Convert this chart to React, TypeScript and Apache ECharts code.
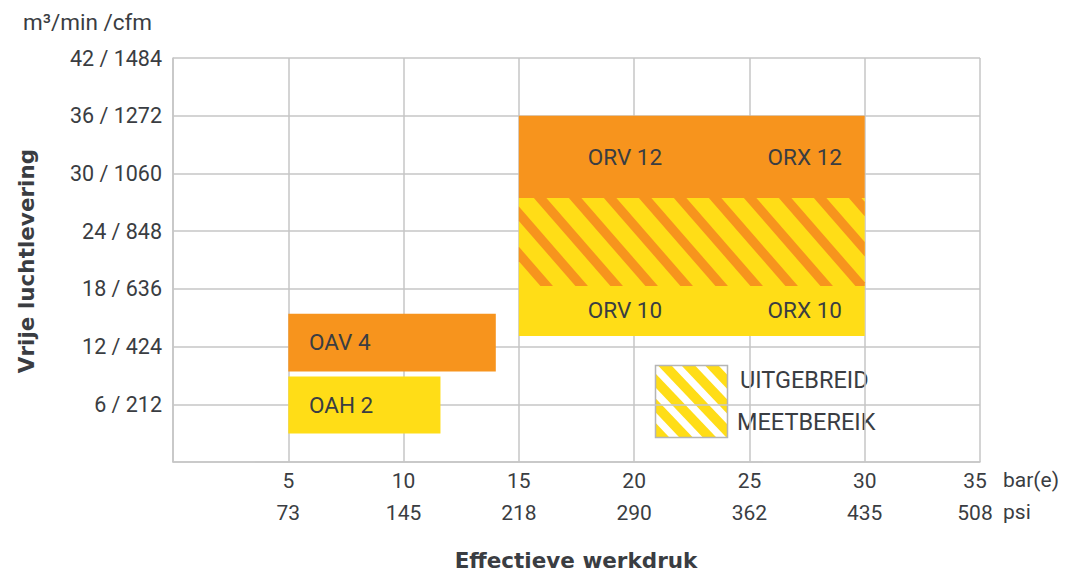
import React, { useEffect, useRef } from "react";
import * as echarts from "echarts";

// ---- data ----
const xBarLabels = ["", "5", "10", "15", "20", "25", "30", "35"];
const xPsiLabels = ["", "73", "145", "218", "290", "362", "435", "508"];
const yTickLabels = ["", "6 / 212", "12 / 424", "18 / 636", "24 / 848", "30 / 1060", "36 / 1272", "42 / 1484"];

const boxXStart = [5, 5, 15, 15, 15];
const boxXEnd = [11.6, 14.0, 30, 30, 30];
const boxYStart = [2.95, 9.4, 13.1, 18.3, 27.45];
const boxYEnd = [8.9, 15.4, 18.3, 27.45, 36];
const boxKind = ["yellow", "orange", "yellow", "hatched", "orange"];

const labelTexts = ["OAH 2", "OAV 4", "ORV 10", "ORX 10", "ORV 12", "ORX 12"];
const labelX = [5.9, 5.9, 19.6, 27.4, 19.6, 27.4];
const labelY = [5.9, 12.5, 15.8, 15.8, 31.7, 31.7];
const labelAlign = ["left", "left", "center", "center", "center", "center"];

const legendLines = ["UITGEBREID", "MEETBEREIK"];

// ---- styles ----
const ORANGE = "#F7941D";
const YELLOW = "#FFDD17";
const TEXT = "#3a3d42";
const GRID = "#c6c6c6";
const FONT = "Roboto, 'Liberation Sans', sans-serif";
const BOLD_FONT = "'DejaVu Sans', 'Liberation Sans', sans-serif";

type Pt = [number, number];

function intersect(p: Pt, q: Pt, ax: number, b: number): Pt {
  const t = (b - p[ax]) / (q[ax] - p[ax]);
  return [p[0] + t * (q[0] - p[0]), p[1] + t * (q[1] - p[1])];
}

function clipPoly(poly: Pt[], xmin: number, ymin: number, xmax: number, ymax: number): Pt[] {
  const planes: [number, number, number][] = [
    [0, xmin, 1],
    [0, xmax, -1],
    [1, ymin, 1],
    [1, ymax, -1],
  ];
  let out = poly;
  for (const [ax, b, s] of planes) {
    const inp = out;
    out = [];
    if (!inp.length) break;
    for (let i = 0; i < inp.length; i++) {
      const cur = inp[i];
      const prev = inp[(i + inp.length - 1) % inp.length];
      const cin = (cur[ax] - b) * s >= 0;
      const pin = (prev[ax] - b) * s >= 0;
      if (cin) {
        if (!pin) out.push(intersect(prev, cur, ax, b));
        out.push(cur);
      } else if (pin) {
        out.push(intersect(prev, cur, ax, b));
      }
    }
  }
  return out;
}

function stripePolys(x0: number, y0: number, x1: number, y1: number, period: number, width: number, k: number, phase: number): Pt[][] {
  const h = y1 - y0;
  const res: Pt[][] = [];
  const nBack = Math.ceil((k * h + width + phase) / period) + 1;
  for (let c = x0 + phase - period * nBack; c < x1; c += period) {
    const poly: Pt[] = [
      [c, y0],
      [c + width, y0],
      [c + width + k * h, y1],
      [c + k * h, y1],
    ];
    const cl = clipPoly(poly, x0, y0, x1, y1);
    if (cl.length >= 3) res.push(cl);
  }
  return res;
}

export default function App() {
  const ref = useRef<HTMLDivElement>(null);

  useEffect(() => {
    if (!ref.current) return;
    const chart = echarts.init(ref.current, null, { renderer: "svg" });

    const boxData = boxXStart.map((_, i) => [boxXStart[i], boxXEnd[i], boxYStart[i], boxYEnd[i], i]);
    const labelData = labelTexts.map((_, i) => [labelX[i], labelY[i], i]);

    // legend swatch (pixel layout)
    const lx0 = 655.5, ly0 = 365.5, lx1 = 727.5, ly1 = 437.5;
    const legendStripes = stripePolys(lx0, ly0, lx1, ly1, 23.5, 10, 0.95, 16).map((pts) => ({
      type: "polygon",
      shape: { points: pts },
      style: { fill: "#ffffff" },
      silent: true,
    }));

    const option: any = {
      animation: false,
      grid: { left: 173, top: 58, width: 807, height: 404, show: false },
      xAxis: {
        type: "value",
        min: 0,
        max: 35,
        interval: 5,
        axisLine: { show: true, lineStyle: { color: GRID, width: 1.5 } },
        axisTick: { show: false },
        splitLine: { show: true, lineStyle: { color: GRID, width: 1.5 } },
        axisLabel: {
          color: TEXT,
          fontSize: 21,
          fontFamily: FONT,
          lineHeight: 32,
          margin: 3,
          rich: {
            o: { color: TEXT, fontSize: 21, fontFamily: FONT, lineHeight: 32, padding: [0, 10, 0, 0] },
          },
          formatter: (v: number) => {
            const i = Math.round(v / 5);
            if (!xBarLabels[i]) return "";
            if (i === xBarLabels.length - 1) return "{o|" + xBarLabels[i] + "}\n{o|" + xPsiLabels[i] + "}";
            return xBarLabels[i] + "\n" + xPsiLabels[i];
          },
        },
      },
      yAxis: {
        type: "value",
        min: 0,
        max: 42,
        interval: 6,
        axisLine: { show: true, lineStyle: { color: GRID, width: 1.5 } },
        axisTick: { show: false },
        splitLine: { show: true, lineStyle: { color: GRID, width: 1.5 } },
        axisLabel: {
          color: TEXT,
          fontSize: 21.5,
          fontFamily: FONT,
          margin: 11,
          formatter: (v: number) => yTickLabels[Math.round(v / 6)] || "",
        },
      },
      series: [
        {
          type: "custom",
          coordinateSystem: "cartesian2d",
          data: boxData,
          encode: { x: [0, 1], y: [2, 3] },
          renderItem: (params: any, api: any) => {
            const i = api.value(4);
            const tl = api.coord([api.value(0), api.value(3)]);
            const br = api.coord([api.value(1), api.value(2)]);
            const x0 = tl[0], y0 = tl[1], x1 = br[0], y1 = br[1];
            const kind = boxKind[i];
            const base = {
              type: "rect",
              shape: { x: x0, y: y0, width: x1 - x0, height: y1 - y0 },
              style: { fill: kind === "orange" ? ORANGE : YELLOW },
            };
            if (kind !== "hatched") return base;
            const stripes = stripePolys(x0, y0, x1, y1, 35, 12.5, 0.87, 15).map((pts) => ({
              type: "polygon",
              shape: { points: pts },
              style: { fill: ORANGE },
            }));
            return { type: "group", children: [base, ...stripes] };
          },
          z: 2,
        },
        {
          type: "custom",
          coordinateSystem: "cartesian2d",
          data: labelData,
          encode: { x: 0, y: 1 },
          renderItem: (params: any, api: any) => {
            const i = api.value(2);
            const p = api.coord([api.value(0), api.value(1)]);
            return {
              type: "text",
              x: p[0],
              y: p[1],
              style: {
                text: labelTexts[i],
                fill: TEXT,
                fontSize: 22.5,
                fontFamily: FONT,
                align: labelAlign[i],
                verticalAlign: "middle",
              },
            };
          },
          z: 3,
        },
      ],
      graphic: [
        {
          type: "text",
          x: 23,
          y: 22,
          style: { text: "m³/min /cfm", fill: TEXT, fontSize: 22.5, fontFamily: FONT, verticalAlign: "middle" },
        },
        {
          type: "text",
          x: 1003,
          y: 480,
          style: { text: "bar(e)", fill: TEXT, fontSize: 21, fontFamily: FONT, verticalAlign: "middle" },
        },
        {
          type: "text",
          x: 1003,
          y: 512,
          style: { text: "psi", fill: TEXT, fontSize: 21, fontFamily: FONT, verticalAlign: "middle" },
        },
        {
          type: "text",
          x: 576,
          y: 560,
          style: {
            text: "Effectieve werkdruk",
            fill: TEXT,
            fontSize: 21.5,
            lineHeight: 22,
            fontWeight: "bold",
            fontFamily: BOLD_FONT,
            align: "center",
            verticalAlign: "middle",
          },
        },
        {
          type: "text",
          x: 26,
          y: 261,
          rotation: Math.PI / 2,
          style: {
            text: "Vrije luchtlevering",
            fill: TEXT,
            fontSize: 21.5,
            fontWeight: "bold",
            fontFamily: BOLD_FONT,
            align: "center",
            verticalAlign: "middle",
          },
        },
        {
          type: "group",
          children: [
            {
              type: "rect",
              shape: { x: lx0, y: ly0, width: lx1 - lx0, height: ly1 - ly0 },
              style: { fill: YELLOW },
            },
            ...legendStripes,
            {
              type: "rect",
              shape: { x: lx0, y: ly0, width: lx1 - lx0, height: ly1 - ly0 },
              style: { fill: "none", stroke: "#b5b5b5", lineWidth: 1.5 },
            },
          ],
        },
        {
          type: "text",
          x: 740,
          y: 380,
          style: { text: legendLines[0], fill: TEXT, fontSize: 23.5, fontFamily: FONT, verticalAlign: "middle" },
        },
        {
          type: "text",
          x: 737,
          y: 422,
          style: { text: legendLines[1], fill: TEXT, fontSize: 23.5, fontFamily: FONT, verticalAlign: "middle" },
        },
      ],
    };

    chart.setOption(option);
    return () => chart.dispose();
  }, []);

  return (
    <div
      ref={ref}
      style={{ position: "fixed", left: 0, top: 0, width: 1067, height: 572, background: "#ffffff" }}
    />
  );
}
